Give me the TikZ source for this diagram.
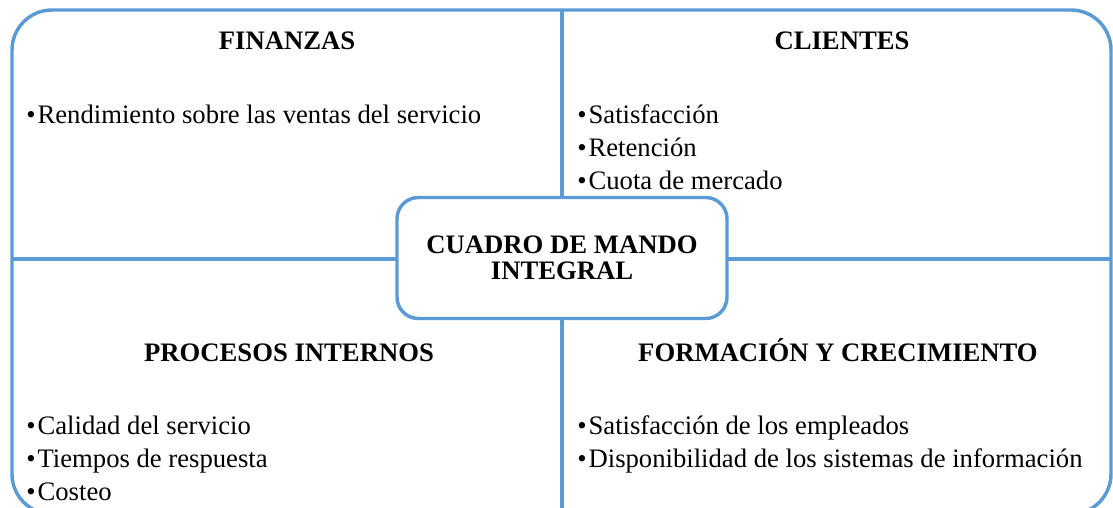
\documentclass[tikz,border=0pt]{standalone}
\usepackage{fontspec}
\setmainfont{Liberation Serif}
\usetikzlibrary{positioning}
\definecolor{marco}{RGB}{91,155,213}
\tikzstyle{borde}  = [draw=marco, line width=2.6pt]
\tikzstyle{titulo} = [font=\fontsize{20}{24}\selectfont\bfseries, inner sep=0pt, anchor=base]
\tikzstyle{item}   = [font=\fontsize{20}{24}\selectfont, inner sep=0pt, anchor=base west]
\tikzstyle{centro} = [borde, fill=white, rounded corners=16pt, minimum width=247.5pt,
                      minimum height=90.75pt, align=center,
                      font=\fontsize{20}{19.5}\selectfont\bfseries]
\newcommand{\vineta}{•\kern1.5pt}

\begin{document}
\begin{tikzpicture}[x=0.75pt,y=-0.75pt]
        \useasboundingbox (0,0) rectangle (1113,507);
        \clip (0,0) rectangle (1113,507);

        % marco y cuadrantes
        \draw[borde, rounded corners=30pt] (12,10) rectangle (1111,514);
        \draw[borde] (562,10) -- (562,514);
        \draw[borde] (12,259) -- (1111,259);

        % finanzas
        \node (fin) [titulo] at (287,49) {FINANZAS};
        \node (fin1) [item] at (26,123) {\vineta Rendimiento sobre las ventas del servicio};

        % clientes
        \node (cli) [titulo] at (842,49) {CLIENTES};
        \node (cli1) [item] at (577,123) {\vineta Satisfacción};
        \node (cli2) [item] at (577,156) {\vineta Retención};
        \node (cli3) [item] at (577,189) {\vineta Cuota de mercado};

        % procesos internos
        \node (pro) [titulo] at (289,361) {PROCESOS INTERNOS};
        \node (pro1) [item] at (26,434) {\vineta Calidad del servicio};
        \node (pro2) [item] at (26,467) {\vineta Tiempos de respuesta};
        \node (pro3) [item] at (26,500) {\vineta Costeo};

        % formacion y crecimiento
        \node (for) [titulo] at (838,361) {FORMACIÓN Y CRECIMIENTO};
        \node (for1) [item] at (577,434) {\vineta Satisfacción de los empleados};
        \node (for2) [item] at (577,467) {\vineta Disponibilidad de los sistemas de información};

        % centro
        \node (cmi) [centro] at (562,258) {CUADRO DE MANDO\\INTEGRAL};
\end{tikzpicture}
\end{document}
